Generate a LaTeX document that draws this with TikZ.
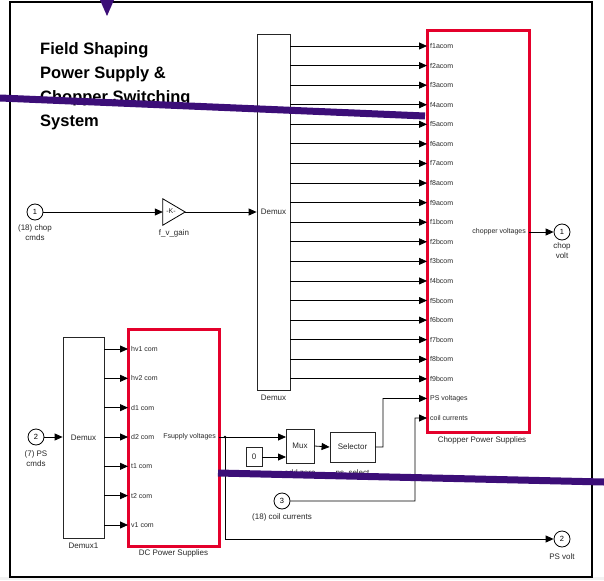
\documentclass[tikz,border=0pt]{standalone}
\usepackage{fontspec}
\setmainfont{Liberation Sans}
\usetikzlibrary{arrows.meta,calc}
\definecolor{redb}{RGB}{228,0,43}
\definecolor{purp}{RGB}{60,14,120}
\definecolor{txt}{RGB}{40,40,40}
\begin{document}
\begin{tikzpicture}[x=1pt,y=-1pt,
  blk/.style={draw=black!85, line width=0.8pt, inner sep=0pt, font=\fontsize{8}{9}\selectfont, text=txt},
  redblk/.style={draw=redb, line width=3pt, inner sep=0pt},
  port/.style={circle, draw=black, line width=0.8pt, minimum size=16pt, inner sep=0pt, font=\fontsize{7.5}{8}\selectfont},
  plab/.style={font=\fontsize{7}{8}\selectfont, text=txt, inner sep=0pt},
  nlab/.style={font=\fontsize{8}{10}\selectfont, text=txt, inner sep=0pt, align=center},
  wire/.style={draw=black, line width=0.8pt},
  arr/.style={wire, -{Triangle[length=8pt,width=7pt]}},
]
\useasboundingbox (0,0) rectangle (604,580);
\fill[white] (0,0) rectangle (604,580);
\fill[gray!10] (0,577) rectangle (604,580);
% frame
\draw[line width=1.5pt] (10,2) rectangle (592,577);

% title
\node[anchor=north west, align=left, inner sep=0pt, font=\fontsize{16.5}{24}\selectfont\bfseries] (title) at (40,42)
  {Field Shaping\\Power Supply \&\\Chopper Switching\\System};

% top demux and chopper block
\node[blk, minimum width=33pt, minimum height=356pt] (demuxA) at (273.5,212) {Demux};
\node[nlab] (demuxAlab) at (273.5,398) {Demux};
\node[redblk, minimum width=102pt, minimum height=401pt] (chop) at (478,231.5) {};
\node[nlab] (choplab) at (482,440) {Chopper Power Supplies};

\foreach \lab [count=\i from 0] in {f1acom,f2acom,f3acom,f4acom,f5acom,f6acom,f7acom,f8acom,f9acom,f1bcom,f2bcom,f3bcom,f4bcom,f5bcom,f6bcom,f7bcom,f8bcom,f9bcom,PS voltages,coil currents}{
  \coordinate (cin\i) at (427,{46+19.58*\i});
  \node[plab, anchor=west] (cl\i) at (430,{46+19.58*\i}) {\lab};
}
\foreach \i in {0,...,17}{
  \draw[arr] (demuxA.east |- cin\i) -- (cin\i);
}

% input 1 and gain
\node[port] (p1) at (35,212) {1};
\node[nlab, anchor=north] (p1lab) at (35,225) {(18) chop\\cmds};
\node[minimum width=22pt, minimum height=26pt, inner sep=0pt] (gain) at (174,212) {};
\draw[wire, fill=white] (gain.north west) -- (gain.east) -- (gain.south west) -- cycle;
\node[plab] (k) at (171,211) {-K-};
\node[nlab] (gainlab) at (174,233) {f\_v\_gain};
\draw[arr] (p1) -- (gain.west);
\draw[arr] (gain.east) -- (demuxA.west |- gain.east);

% output 1
\coordinate (cout) at (529,232);
\node[plab, anchor=east] (cvl) at (526,232) {chopper voltages};
\node[port] (o1) at (562,232) {1};
\node[nlab, anchor=north] (o1lab) at (562,243) {chop\\volt};
\draw[arr] (cout) -- (o1);

% bottom demux and DC block
\node[blk, minimum width=41pt, minimum height=201pt] (demuxB) at (83.5,437.5) {Demux};
\node[nlab] (demuxBlab) at (83.5,546) {Demux1};
\node[redblk, minimum width=91pt, minimum height=217pt] (dc) at (173.5,437.5) {};
\node[nlab] (dclab) at (173.5,553) {DC Power Supplies};

\foreach \lab [count=\i from 0] in {hv1 com,hv2 com,d1 com,d2 com,t1 com,t2 com,v1 com}{
  \coordinate (din\i) at (128,{349+29.33*\i});
  \node[plab, anchor=west] (dl\i) at (131,{349+29.33*\i}) {\lab};
  \draw[arr] (demuxB.east |- din\i) -- (din\i);
}
\node[port] (p2) at (36,437) {2};
\node[nlab, anchor=north] (p2lab) at (36,450) {(7) PS\\cmds};
\draw[arr] (p2) -- (demuxB.west |- p2);

\node[plab, anchor=east] (fsl) at (216,437) {Fsupply voltages};
\coordinate (dcout) at (219,437);
\coordinate (br) at (225,437);
\fill (br) circle (1.3pt);

% mux, zero, selector
\node[blk, minimum width=28pt, minimum height=34pt] (mux) at (300,446) {Mux};
\node[nlab] (muxlab) at (300,473) {add zero};
\node[blk, minimum width=16pt, minimum height=19pt] (zero) at (254,456.5) {0};
\node[blk, minimum width=45pt, minimum height=30pt] (sel) at (352.5,447) {Selector};
\node[nlab] (sellab) at (352.5,473) {ps\_select};
\coordinate (muxin1) at (286,437);
\coordinate (muxin2) at (286,457);
\draw[wire] (dcout) -- (br);
\draw[arr] (br) -- (muxin1);
\draw[arr] (zero.east |- muxin2) -- (muxin2);
\draw[arr] (mux.east) -- (sel.west);
\draw[arr] (sel.east) -- (383,447) -- (383,398.4) -- (cin18);

% input 3
\node[port] (p3) at (282,501) {3};
\node[nlab] (p3lab) at (282,517) {(18) coil currents};
\draw[arr] (p3) -- (415,501) -- (415,418) -- (cin19);

% output 2
\node[port] (o2) at (562,539) {2};
\node[nlab] (o2lab) at (562,557) {PS volt};
\draw[arr] (br) -- (br |- o2) -- (o2);

% purple annotation marks
\fill[purp] (100,0) -- (114,0) -- (107,16) -- cycle;
\draw[purp, line width=7pt] (0,98) -- (425,116);
\draw[purp, line width=7pt] (218,473) -- (604,482);
\end{tikzpicture}
\end{document}
